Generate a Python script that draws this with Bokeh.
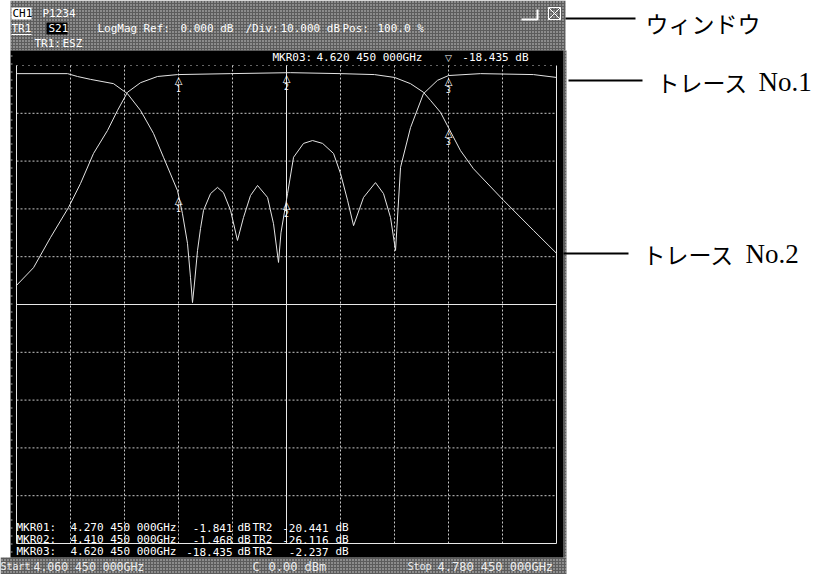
import numpy as np
from bokeh.plotting import figure
from bokeh.models import Range1d
from bokeh.core.properties import value
from bokeh.embed import file_html
from bokeh.resources import INLINE

# ---------------- data ----------------
start_ghz = 4.06045
ghz_per_div = 0.07
ref_db = 0.0
db_per_div = 10.0
n_div = 10

# Trace No.1 (S21, transmission)
tr1_freq = [4.0605, 4.0825, 4.1045, 4.1279, 4.1434, 4.1603, 4.1784, 4.1914, 4.2043,
            4.2212, 4.2432, 4.2692, 4.3379, 4.4155, 4.4805, 4.5245, 4.5505, 4.5712,
            4.5880, 4.5971, 4.6101, 4.6191, 4.6360, 4.6528, 4.6917, 4.7306, 4.7605]
tr1_db = [-46.0, -42.3, -36.0, -29.7, -24.7, -18.4, -13.6, -9.4, -5.6,
          -3.6, -2.3, -1.9, -1.7, -1.5, -1.7, -1.9, -2.5, -3.8,
          -5.6, -7.3, -9.8, -12.6, -17.8, -21.6, -28.2, -34.5, -39.3]

# Trace No.2 (reflection)
tr2_freq = [4.0605, 4.1266, 4.1395, 4.1564, 4.1862, 4.2043, 4.2212, 4.2380, 4.2510,
            4.2692, 4.2756, 4.2821, 4.2860, 4.2886, 4.2912, 4.2951, 4.2990, 4.3029,
            4.3120, 4.3210, 4.3288, 4.3379, 4.3469, 4.3547, 4.3638, 4.3729, 4.3859,
            4.3936, 4.4001, 4.4033, 4.4118, 4.4196, 4.4325, 4.4442, 4.4572, 4.4714,
            4.4805, 4.4896, 4.4974, 4.5103, 4.5258, 4.5362, 4.5453, 4.5518, 4.5583,
            4.5712, 4.5880, 4.6062, 4.6205, 4.6620, 4.7306, 4.7605]
tr2_db = [-1.7, -1.7, -2.3, -2.9, -3.8, -5.9, -9.4, -14.2, -19.2,
          -26.2, -31.0, -37.2, -44.3, -49.6, -45.5, -38.7, -34.1, -30.3,
          -26.8, -25.5, -26.6, -30.3, -36.6, -31.8, -27.2, -25.1, -27.6,
          -33.1, -41.2, -35.0, -26.8, -19.2, -16.3, -15.7, -16.3, -18.4,
          -22.6, -28.2, -33.5, -27.6, -24.5, -26.8, -31.8, -38.7, -21.3,
          -13.0, -5.9, -3.1, -2.1, -1.7, -1.9, -2.5]

marker_freq = [4.27045, 4.41045, 4.62045]
marker_names = ["1", "2", "3"]
marker_rows = [
    ["MKR01:", "4.270 450 000GHz", "-1.841", "-20.441"],
    ["MKR02:", "4.410 450 000GHz", "-1.468", "-26.116"],
    ["MKR03:", "4.620 450 000GHz", "-18.435", "-2.237"],
]

# ---------------- page geometry ----------------
W, H = 815, 574
PX_X0, PX_DIV_X = 16, 54.0
PX_Y0, PX_DIV_Y = 65, 47.8


def fx(px):
    return start_ghz + (px - PX_X0) / PX_DIV_X * ghz_per_div


def dy(py):
    return ref_db - (py - PX_Y0) / PX_DIV_Y * db_per_div


p = figure(width=W, height=H, x_range=Range1d(fx(0), fx(W)),
           y_range=Range1d(dy(H), dy(0)), output_backend="svg",
           toolbar_location=None, min_border=0)
p.xaxis.visible = False
p.yaxis.visible = False
p.grid.visible = False
p.outline_line_color = None
p.background_fill_color = "white"
p.border_fill_color = "white"

GRAY = "#5c5c5c"
DOT = "#d4d4d4"
hatch = dict(fill_color=GRAY, hatch_pattern="dot", hatch_color=DOT,
             hatch_scale=3, hatch_weight=1, line_color=None)

# instrument window backgrounds
p.quad(left=[fx(10)], right=[fx(565)], top=[dy(0)], bottom=[dy(50)], **hatch)
p.quad(left=[fx(563)], right=[fx(566)], top=[dy(50)], bottom=[dy(557)], **hatch)
p.quad(left=[fx(0)], right=[fx(566)], top=[dy(557)], bottom=[dy(574)], **hatch)
p.quad(left=[fx(10)], right=[fx(563)], top=[dy(50)], bottom=[dy(557)],
       fill_color="black", line_color=None)

stop_ghz = start_ghz + n_div * ghz_per_div
bottom_db = ref_db - n_div * db_per_div
GRID = "#c8c8c8"

vx = [start_ghz + i * ghz_per_div for i in range(1, n_div)]
p.segment(x0=vx, y0=[ref_db] * len(vx), x1=vx, y1=[bottom_db] * len(vx),
          line_color=GRID, line_dash="2 2", line_width=1)
hy = [ref_db - j * db_per_div for j in range(1, n_div)]
p.segment(x0=[start_ghz] * len(hy), y0=hy, x1=[stop_ghz] * len(hy), y1=hy,
          line_color=GRID, line_dash="2 2", line_width=1)
# top border (sparse dots)
p.segment(x0=[start_ghz], y0=[ref_db], x1=[stop_ghz], y1=[ref_db],
          line_color=GRID, line_dash="1 5", line_width=1)
# solid frame parts + reference line
mid_db = ref_db - n_div / 2 * db_per_div
p.segment(x0=[start_ghz, stop_ghz, start_ghz, start_ghz],
          y0=[ref_db, ref_db, bottom_db, mid_db],
          x1=[start_ghz, stop_ghz, stop_ghz, stop_ghz],
          y1=[bottom_db, bottom_db, bottom_db, mid_db],
          line_color="#e8e8e8", line_width=1)
# left edge ticks
p.segment(x0=[fx(11)], y0=[dy(55)], x1=[fx(11)], y1=[dy(557)],
          line_color="#aaaaaa", line_dash="1 7", line_width=2)
# active marker line
p.segment(x0=[marker_freq[1]], y0=[ref_db], x1=[marker_freq[1]], y1=[bottom_db],
          line_color="#e8e8e8", line_width=1)

# traces
p.line(tr1_freq, tr1_db, line_color="#e4e4e4", line_width=1)
p.line(tr2_freq, tr2_db, line_color="#e4e4e4", line_width=1)

# markers
m1 = np.interp(marker_freq, tr1_freq, tr1_db)
m2 = np.interp(marker_freq, tr2_freq, tr2_db)
mx = list(marker_freq) * 2
my = list(m1) + list(m2)
p.text(x=mx, y=my, text=["△"] * 6, text_align="center", text_baseline="top",
       text_font=value("DejaVu Sans"), text_font_size="10px", text_color="white")
p.text(x=mx, y=my, text=marker_names * 2, text_align="center", text_baseline="top",
       y_offset=10, text_font=value("DejaVu Sans Mono"), text_font_size="8px",
       text_color="white")
p.text(x=[marker_freq[2]], y=[dy(57)], text=["▽"], text_align="center",
       text_baseline="middle", text_font=value("DejaVu Sans"),
       text_font_size="9px", text_color="white")

MONO = "DejaVu Sans Mono"


def T(px, py, s, size="11px", color="white", align="left", font=MONO):
    p.text(x=[fx(px)], y=[dy(py)], text=[s], text_align=align,
           text_baseline="middle", text_font=value(font),
           text_font_size=size, text_color=color)


# header
p.quad(left=[fx(11)], right=[fx(31)], top=[dy(7)], bottom=[dy(19)],
       fill_color="white", line_color=None)
T(12, 13, "CH1", color="black")
T(42, 13, "P1234")
p.quad(left=[fx(46)], right=[fx(67)], top=[dy(22)], bottom=[dy(34)],
       fill_color="black", line_color=None)
T(11, 28, "TR1")
p.segment(x0=[fx(11)], y0=[dy(34)], x1=[fx(31)], y1=[dy(34)],
          line_color="white", line_width=1)
T(48, 28, "S21")
T(97, 28, "LogMag")
T(143, 28, "Ref:")
T(180, 28, "0.000 dB")
T(245, 28, "/Div:")
T(280, 28, "10.000 dB")
T(342, 28, "Pos:")
T(377, 28, "100.0 %")
T(34, 43, "TR1:")
T(62, 43, "ESZ")
# window icons
p.line([fx(521), fx(537), fx(537)], [dy(19), dy(19), dy(9)],
       line_color="white", line_width=2)
p.quad(left=[fx(548)], right=[fx(560)], top=[dy(7)], bottom=[dy(19)],
       fill_color=None, line_color="white", line_width=1)
p.segment(x0=[fx(548), fx(548)], y0=[dy(7), dy(19)], x1=[fx(560), fx(560)],
          y1=[dy(19), dy(7)], line_color="white", line_width=1)

# active marker readout (top of display)
T(272, 57, "MKR03:")
T(316, 57, "4.620 450 000GHz")
T(528, 57, "-18.435 dB", align="right")

# marker table
row_y = [527, 539, 551]
for r, yy in zip(marker_rows, row_y):
    T(16, yy, r[0])
    T(70, yy, r[1])
    T(232, yy, r[2], align="right")
    T(237, yy, "dB")
    T(252, yy, "TR2")
    T(328, yy, r[3], align="right")
    T(335, yy, "dB")

# footer
FOOT = "#eeeeee"
T(0, 566, "Start", size="10px", color=FOOT)
T(33, 566, "4.060 450 000GHz", size="11.5px", color=FOOT)
T(252, 566, "C", size="12px", color=FOOT)
T(268, 566, "0.00 dBm", size="12px", color=FOOT)
T(407, 566, "Stop", size="10px", color=FOOT)
T(437, 566, "4.780 450 000GHz", size="12px", color=FOOT)

# callouts
p.segment(x0=[fx(565), fx(568), fx(563)], y0=[dy(18), dy(80), dy(253)],
          x1=[fx(635), fx(642), fx(628)], y1=[dy(18), dy(80), dy(253)],
          line_color="black", line_width=2)
JP = "Noto Sans CJK JP"
SERIF = "Liberation Serif"
T(645, 22, "ウィンドウ", size="23px", color="black", font=JP)
T(656, 81, "トレース", size="23px", color="black", font=JP)
T(758, 81, "No.1", size="27px", color="black", font=SERIF)
T(642, 253, "トレース", size="23px", color="black", font=JP)
T(745, 253, "No.2", size="27px", color="black", font=SERIF)

open("out.html", "w").write(file_html(p, INLINE))
